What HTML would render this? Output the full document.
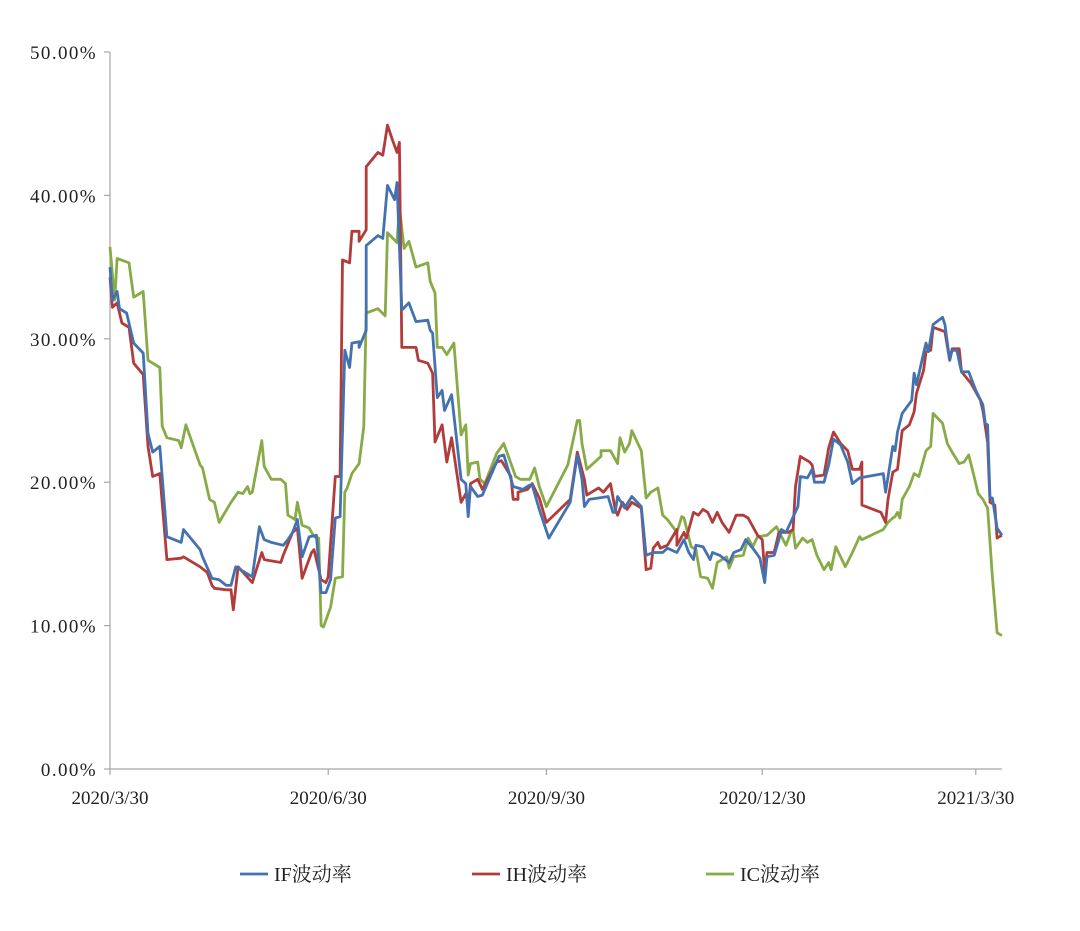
<!DOCTYPE html>
<html><head><meta charset="utf-8"><style>
body{margin:0;background:#fff;}
svg{display:block;}
text{font-family:"Liberation Serif","Noto Serif CJK SC",serif;fill:#222;}
</style></head><body>
<svg id="chart" width="1080" height="931" viewBox="0 0 1080 931" xmlns="http://www.w3.org/2000/svg">
<g id="grid"></g><g id="series"></g><g id="legend"></g>
</svg>
<script>
const yTicks=[0,10,20,30,40,50];
const yTickLabels=["0.00%","10.00%","20.00%","30.00%","40.00%","50.00%"];
const xTicks=[0,92,184,275,365];
const xTickLabels=["2020/3/30","2020/6/30","2020/9/30","2020/12/30","2021/3/30"];
const seriesNames=["IF波动率","IH波动率","IC波动率"];
const ifDays=[0,1,3,4,7,10,14,16,18,21,24,30,31,38,39,43,46,49,51,53,60,63,65,68,73,75,77,79,81,84,87,89,91,93,95,97,99,101,102,105,105,108,108,113,115,117,120,121,123,126,129,134,135,136,138,140,141,144,148,150,151,152,155,157,164,166,170,174,177,178,181,185,194,197,199,200,202,206,210,212,213,214,217,220,224,226,229,233,235,239,242,244,246,247,250,253,254,257,261,263,266,268,271,274,276,277,280,282,283,285,290,291,294,296,297,301,303,305,308,311,313,316,326,327,330,331,332,334,338,339,340,343,344,345,347,351,352,354,355,357,359,362,365,368,369,370,371,372,374,376];
const ifVals=[35.0,32.7,33.3,32.1,31.8,29.7,29.0,23.4,22.1,22.5,16.2,15.8,16.7,15.3,14.8,13.3,13.2,12.8,12.8,14.1,13.4,16.9,16.0,15.8,15.6,16.0,16.5,17.4,14.8,16.2,16.3,12.3,12.3,13.2,17.5,17.6,29.2,28.0,29.7,29.8,29.4,30.6,36.5,37.2,37.0,40.7,39.7,40.9,32.0,32.5,31.2,31.3,30.6,30.4,25.9,26.4,25.0,26.1,20.2,19.9,17.6,19.7,19.0,19.1,21.8,21.9,19.7,19.5,19.8,19.8,18.1,16.1,18.6,21.9,20.2,18.3,18.8,18.9,19.0,17.9,17.9,19.0,18.2,19.0,18.3,14.9,15.1,15.1,15.4,15.1,16.0,15.1,14.6,15.6,15.5,14.6,15.1,14.9,14.4,15.1,15.3,16.0,15.4,14.7,13.0,14.8,14.9,16.0,16.7,16.5,18.3,20.4,20.3,20.9,20.0,20.0,21.2,23.0,22.6,21.4,19.9,20.3,20.6,19.3,22.5,22.2,23.5,24.8,25.7,27.6,26.8,29.0,29.7,29.1,31.0,31.5,31.0,28.5,29.2,29.2,27.7,27.7,26.4,25.4,24.1,24.0,18.9,18.9,16.8,16.3];
const ihDays=[0,1,3,5,8,10,14,16,18,21,24,30,31,38,41,43,44,49,51,52,54,60,64,65,72,73,77,79,81,85,86,89,91,92,95,97,98,101,102,105,105,108,108,113,115,117,119,121,122,123,129,130,134,136,137,140,142,144,148,150,151,152,155,157,163,165,169,170,172,172,176,178,181,184,194,197,200,201,206,208,211,213,214,216,218,220,224,226,228,229,231,232,235,239,239,242,243,246,248,250,252,254,256,258,261,264,267,269,273,275,276,277,280,282,286,288,289,291,295,296,297,301,303,305,308,311,313,316,317,317,325,327,328,330,332,334,337,339,340,343,344,346,347,352,354,355,358,359,360,363,365,367,368,370,371,373,374,376];
const ihVals=[34.3,32.2,32.5,31.1,30.8,28.3,27.5,22.5,20.4,20.6,14.6,14.7,14.8,14.1,13.7,12.8,12.6,12.5,12.5,11.1,14.1,13.0,15.1,14.6,14.4,14.9,16.5,16.8,13.3,15.1,15.3,13.2,13.0,13.4,20.4,20.4,35.5,35.3,37.5,37.5,36.8,37.6,42.0,43.0,42.8,44.9,43.9,43.0,43.7,29.4,29.4,28.5,28.3,27.6,22.8,24.0,21.4,23.1,18.6,19.2,18.3,19.9,20.2,19.5,21.4,21.5,20.4,18.8,18.8,19.3,19.5,19.9,18.9,17.2,18.8,22.1,20.2,19.1,19.6,19.3,19.9,18.1,17.7,18.6,18.1,18.6,18.2,13.9,14.0,15.4,15.8,15.4,15.6,16.7,15.6,16.5,16.1,17.9,17.7,18.1,17.9,17.2,17.9,17.2,16.5,17.7,17.7,17.5,16.3,16.0,13.7,15.1,15.1,16.5,16.5,16.7,19.7,21.8,21.4,21.2,20.4,20.5,22.4,23.5,22.7,22.2,20.9,20.9,21.4,18.4,17.9,17.2,18.8,20.7,20.9,23.6,24.0,24.9,26.2,27.8,29.1,29.2,30.8,30.5,28.5,29.3,29.3,27.7,27.5,26.9,26.3,25.7,25.0,22.8,18.6,18.4,16.1,16.3];
const icDays=[0,2,3,8,10,14,16,21,22,24,29,30,32,38,39,42,44,46,51,54,56,58,59,60,64,65,68,72,74,75,78,79,81,84,86,88,89,90,93,95,98,99,100,102,105,107,108,113,116,117,121,122,124,126,129,134,135,137,138,140,142,145,148,150,151,152,155,156,158,163,166,171,173,177,179,181,184,193,197,198,199,201,207,207,211,214,215,217,219,220,224,226,228,231,233,235,239,241,242,245,247,249,252,254,256,258,260,261,263,267,269,271,273,277,281,285,287,288,289,292,294,296,298,301,303,304,306,310,313,316,317,326,328,330,331,332,333,334,337,339,341,344,346,347,351,353,355,358,360,362,364,366,368,370,372,374,376];
const icVals=[36.4,32.7,35.6,35.3,32.9,33.3,28.5,28.0,23.9,23.1,22.9,22.4,24.0,21.2,21.0,18.8,18.6,17.2,18.6,19.3,19.2,19.7,19.2,19.3,22.9,21.1,20.2,20.2,19.9,17.7,17.4,18.6,17.0,16.8,16.2,16.1,10.0,9.9,11.3,13.3,13.4,19.3,19.6,20.6,21.3,23.9,31.8,32.1,31.6,37.4,36.7,39.2,36.3,36.8,35.0,35.3,34.0,33.2,29.4,29.4,28.9,29.7,23.3,24.0,20.5,21.3,21.4,20.2,19.9,22.0,22.7,20.4,20.2,20.2,21.0,19.7,18.3,21.2,24.3,24.3,22.7,20.9,21.8,22.2,22.2,21.3,23.1,22.1,22.7,23.6,22.2,18.9,19.3,19.6,17.7,17.4,16.5,17.6,17.5,15.5,15.3,13.4,13.3,12.6,14.4,14.6,14.8,14.0,14.8,14.9,16.1,15.5,16.2,16.3,16.9,15.6,16.5,16.7,15.4,16.1,15.8,16.0,14.9,13.9,14.4,13.9,15.5,14.1,15.1,16.2,16.0,16.7,17.2,17.5,17.6,17.9,17.5,18.8,19.7,20.6,20.4,22.2,22.5,24.8,24.1,22.7,22.1,21.3,21.4,21.9,20.6,19.2,18.8,18.2,13.4,9.5,9.3];

const NS="http://www.w3.org/2000/svg";
const X0=110,DX=2.372,Y0=769,DY=14.34;
const xs=d=>X0+d*DX, ys=v=>Y0-v*DY;
function mk(tag,attrs,parent){const e=document.createElementNS(NS,tag);for(const k in attrs)e.setAttribute(k,attrs[k]);parent.appendChild(e);return e;}
const grid=document.getElementById('grid');
let yAxis=mk('line',{x1:X0,y1:ys(50),x2:X0,y2:Y0,stroke:'#a6a6a6','stroke-width':1.2},grid);


let xAxis=mk('line',{x1:X0,y1:Y0,x2:xs(376),y2:Y0,stroke:'#a6a6a6','stroke-width':1.2},grid);


yTicks.forEach((v,i)=>{
  const t=mk('line',{x1:X0-6,y1:ys(v),x2:X0,y2:ys(v),stroke:'#a6a6a6','stroke-width':1.2},grid);
  
  
  const l=mk('text',{x:97,y:ys(v)+7,'text-anchor':'end','font-size':19,'letter-spacing':1.4},grid);
  l.textContent=yTickLabels[i];
  
  
});
xTicks.forEach((d,i)=>{
  const t=mk('line',{x1:xs(d),y1:Y0,x2:xs(d),y2:Y0+6,stroke:'#a6a6a6','stroke-width':1.2},grid);
  
  
  const l=mk('text',{x:xs(d),y:804,'text-anchor':'middle','font-size':19},grid);
  l.textContent=xTickLabels[i];
  
  
});
const colors=['#4472b0','#b23c3c','#89ab47'];
const allDays=[ifDays,ihDays,icDays], allVals=[ifVals,ihVals,icVals];
const keys=['if','ih','ic'];
const sg=document.getElementById('series');
[2,1,0].forEach(s=>{
  const pts=allDays[s].map((d,i)=>xs(d).toFixed(1)+','+ys(allVals[s][i]).toFixed(1)).join(' ');
  const p=mk('polyline',{points:pts,fill:'none',stroke:colors[s],'stroke-width':2.8,'stroke-linejoin':'round'},sg);
  
  
});
const lg=document.getElementById('legend');
const lx=[240,472,706];
[0,1,2].forEach(s=>{
  const g=mk('g',{},lg);
  
  
  mk('line',{x1:lx[s],y1:874,x2:lx[s]+28,y2:874,stroke:colors[s],'stroke-width':2.8},g);
  const t=mk('text',{x:lx[s]+34,y:881,'font-size':20},g);
  t.textContent=seriesNames[s];
});
</script>
</body></html>
